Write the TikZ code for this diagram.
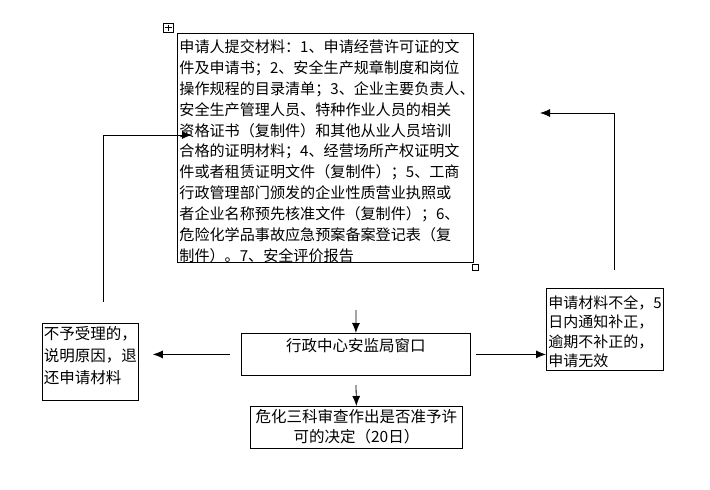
\documentclass[tikz,border=0pt]{standalone}
\usepackage{fontspec}
\setmainfont{Noto Sans CJK SC}
\usetikzlibrary{arrows.meta}

\begin{document}
\begin{tikzpicture}[
x=1pt, y=-1pt,
box/.style={
draw,
line width=0.8pt,
anchor=north west,
inner xsep=2pt,
inner ysep=3pt,
font=\fontsize{15.5}{20.9}\selectfont
},
flow/.style={-{Latex[length=10pt,width=8pt]}, line width=0.8pt}
]

\useasboundingbox (0,0) rectangle (710,490);

\node[box, align=left, text width=292pt, text height=16pt, text depth=207pt,
font=\fontsize{15.1}{20.9}\selectfont] (docs) at (177,33)
{申请人提交材料：1、申请经营许可证的文\\
件及申请书；2、安全生产规章制度和岗位\\
操作规程的目录清单；3、企业主要负责人、\\
安全生产管理人员、特种作业人员的相关\\
资格证书（复制件）和其他从业人员培训\\
合格的证明材料；4、经营场所产权证明文\\
件或者租赁证明文件（复制件）；5、工商\\
行政管理部门颁发的企业性质营业执照或\\
者企业名称预先核准文件（复制件）；6、\\
危险化学品事故应急预案备案登记表（复\\
制件）。7、安全评价报告};

\node[box, minimum width=229pt, text height=15pt, text depth=21pt] (window) at (241,333)
{行政中心安监局窗口};

\node[box, align=center, text width=208pt, text height=13.5pt, text depth=22.5pt,
font=\fontsize{15.5}{20}\selectfont] (verdict) at (250,406)
{危化三科审查作出是否准予许\\可的决定（20日）};

\node[box, align=left, inner xsep=1.5pt, text width=93pt, text height=13pt, text depth=58pt,
font=\fontsize{15.5}{22}\selectfont] (reject) at (42,323)
{不予受理的，\\说明原因，退\\还申请材料};

\node[box, align=left, text width=113pt, text height=17pt, text depth=59pt,
font=\fontsize{15}{19.5}\selectfont] (notice) at (546,288)
{申请材料不全，5\\日内通知补正，\\逾期不补正的，\\申请无效};

% free ends of the connectors
\coordinate (in) at (356,310);
\coordinate (out) at (356,385);
\coordinate (back1) at (103,302);
\coordinate (back1end) at (192,135);
\coordinate (back2) at (614,270);
\coordinate (back2end) at (540,113);

\draw[flow] (in) -- (window.north);
\draw[flow] (out) -- (verdict.north);
\draw[flow, shorten <=11pt, shorten >=14pt] (window.west) -- (window.west -| reject.east);
\draw[flow, shorten <=5pt] (window.east) -- (window.east -| notice.west);
\draw[flow] (back1) |- (back1end);
\draw[flow] (back2) |- (back2end);

% table handles
\draw[line width=0.8pt] (163,23) rectangle (173,32);
\draw[line width=0.6pt] (168,24.5) -- (168,30.5) (164.5,27.5) -- (171.5,27.5);
\draw[line width=0.8pt] (472,264) rectangle (478,270);

\end{tikzpicture}
\end{document}
